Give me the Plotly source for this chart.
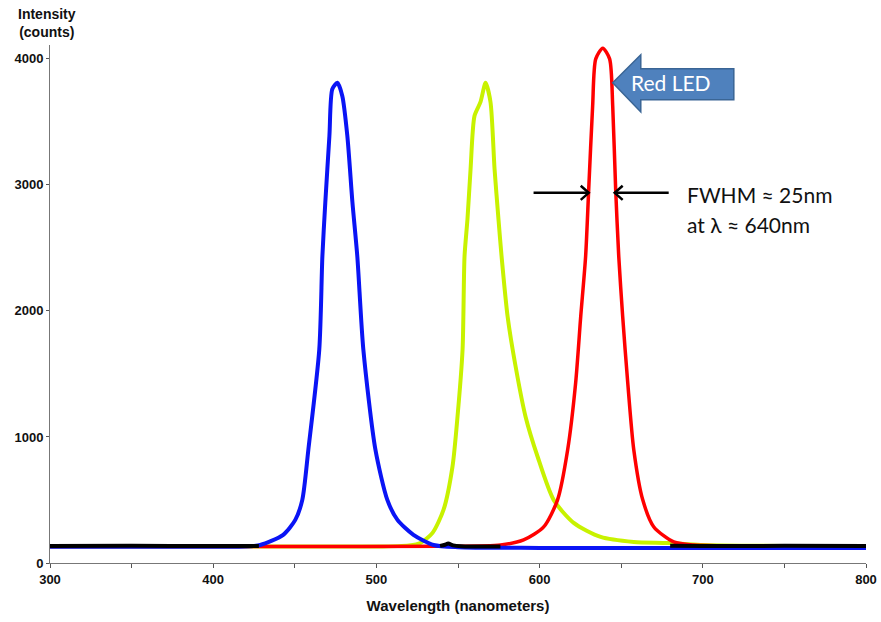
import plotly.graph_objects as go

# ---- data (wavelength nm, intensity counts) ----
blue_wl = [300, 400, 420, 428.8, 442.9, 450.3, 454.6, 458.3, 465.0, 466.9, 468.7, 471.2, 473.0, 476.1,
           479.1, 482.2, 485.3, 488.3, 492.0, 499.4, 506.7, 512.9, 522.7, 535.0, 550, 600, 700, 800]
blue_I = [128, 128, 130, 143, 223, 342, 501, 899, 1694, 2433, 2863, 3388, 3761, 3810,
          3706, 3388, 2863, 2433, 1694, 899, 501, 342, 223, 143, 125, 120, 120, 120]

green_wl = [300, 500, 520, 527.0, 534.4, 541.1, 546.6, 549.7, 552.8, 554.0, 555.8, 557.7, 560.1, 563.8, 566.9,
            569.9, 572.4, 574.8, 576.7, 580.4, 585.3, 591.4, 598.8, 608.6, 620.9, 637.4, 657.7, 678.5, 698.8, 750, 800]
green_I = [130, 130, 140, 159, 239, 421, 763, 1161, 1694, 2433, 2728, 3125, 3547, 3658, 3810,
           3658, 3125, 2728, 2433, 1956, 1559, 1161, 843, 501, 318, 207, 167, 159, 143, 135, 135]

red_wl = [300, 450, 540, 576.1, 590.2, 602.5, 611.0, 617.2, 622.1, 625.2, 628.2, 630.1, 632.5, 634.4, 638.7,
          642.9, 644.8, 646.6, 648.5, 650.9, 654.0, 657.7, 663.2, 670.0, 682.2, 694.5, 750, 800]
red_I = [130, 130, 132, 143, 183, 286, 501, 899, 1431, 1956, 2433, 2966, 3626, 4000, 4085,
         4000, 3626, 2966, 2433, 1956, 1431, 899, 501, 286, 167, 143, 135, 135]

black_wl = [300, 350, 400, 428, None, 539, 542, 544, 547, 552, 560, 576, None, 680, 700, 750, 800]
black_I = [135, 136, 134, 135, None, 136, 145, 155, 140, 132, 130, 130, None, 137, 135, 136, 135]

x_ticks = [300, 400, 500, 600, 700, 800]
y_ticks = [0, 1000, 2000, 3000, 4000]

fig = go.Figure()
sm = 0.7
fig.add_trace(go.Scatter(x=green_wl, y=green_I, mode="lines",
                         line=dict(color="#c8f200", width=4, shape="spline", smoothing=sm)))
fig.add_trace(go.Scatter(x=red_wl, y=red_I, mode="lines",
                         line=dict(color="#ff0000", width=3.5, shape="spline", smoothing=sm)))
fig.add_trace(go.Scatter(x=blue_wl, y=blue_I, mode="lines",
                         line=dict(color="#0a14f5", width=4, shape="spline", smoothing=sm)))
fig.add_trace(go.Scatter(x=black_wl, y=black_I, mode="lines",
                         line=dict(color="#000000", width=4, shape="spline", smoothing=sm),
                         connectgaps=False))

tickfont = dict(family="Arial, Liberation Sans", size=13, color="#111111")

fig.update_layout(
    width=881, height=622,
    margin=dict(l=50, r=15, t=45, b=59),
    paper_bgcolor="white", plot_bgcolor="white",
    showlegend=False,
    xaxis=dict(range=[300, 800], tickvals=x_ticks, ticktext=[f"<b>{v}</b>" for v in x_ticks],
               automargin=False,
               ticks="outside", ticklen=4, tickcolor="#555", showgrid=False, zeroline=False,
               showline=True, linecolor="#777", linewidth=1, tickfont=tickfont,
               minor=dict(dtick=50, ticks="outside", ticklen=4, tickcolor="#555"),
               title=dict(text="<b>Wavelength (nanometers)</b>",
                          font=dict(family="Arial, Liberation Sans", size=15, color="#111"), standoff=14)),
    yaxis=dict(range=[0, 4110], tickvals=y_ticks, ticktext=[f"<b>{v}</b>" for v in y_ticks],
               automargin=False,
               ticks="outside", ticklen=3, tickcolor="#555", showgrid=False, zeroline=False,
               showline=True, linecolor="#777", linewidth=1, tickfont=tickfont),
)

# y-axis title at top-left
fig.add_annotation(xref="paper", yref="paper", x=-0.004, y=1.0425, xanchor="center", yanchor="middle",
                   text="<b>Intensity<br>(counts)</b>", showarrow=False, align="center",
                   font=dict(family="Arial, Liberation Sans", size=14, color="#111"))

# FWHM arrows
arrow_y = 2937
for tail, head, sgn in [(596.3, 630.1, 1), (679.1, 646.0, -1)]:
    fig.add_shape(type="line", xref="x", yref="y", x0=tail, y0=arrow_y, x1=head, y1=arrow_y,
                  line=dict(color="black", width=2.5))
    fig.add_shape(type="path", xref="x", yref="y",
                  path=f"M {head - sgn*4.9},{arrow_y + 56} L {head},{arrow_y} L {head - sgn*4.9},{arrow_y - 56}",
                  line=dict(color="black", width=2.5))

textfont = dict(family="Lato, Open Sans, sans-serif", size=21, color="#111")
fig.add_annotation(xref="x", yref="y", x=689.0, y=2922, xanchor="left", yanchor="middle",
                   text="FWHM ≈ 25nm", showarrow=False, font=textfont)
fig.add_annotation(xref="x", yref="y", x=689.0, y=2683, xanchor="left", yanchor="middle",
                   text="at λ ≈ 640nm", showarrow=False, font=textfont)

# "Red LED" block arrow
fig.add_shape(type="path", xref="x", yref="y",
              path="M 644.8,3810 L 662.0,4032 L 662.0,3921 L 719.0,3921 L 719.0,3675 L 662.0,3675 L 662.0,3579 Z",
              fillcolor="#4f81bd", line=dict(color="#3a6595", width=1.5))
fig.add_annotation(xref="x", yref="y", x=680.5, y=3810, xanchor="center", yanchor="middle",
                   text="Red LED", showarrow=False,
                   font=dict(family="Lato, Open Sans, sans-serif", size=21, color="white"))

# remove the default 8px page margin so the 881x622 figure fills the window exactly
fig.write_html("out.html", config={"displayModeBar": False},
               post_script="document.body.style.margin='0';document.body.style.overflow='hidden';")
